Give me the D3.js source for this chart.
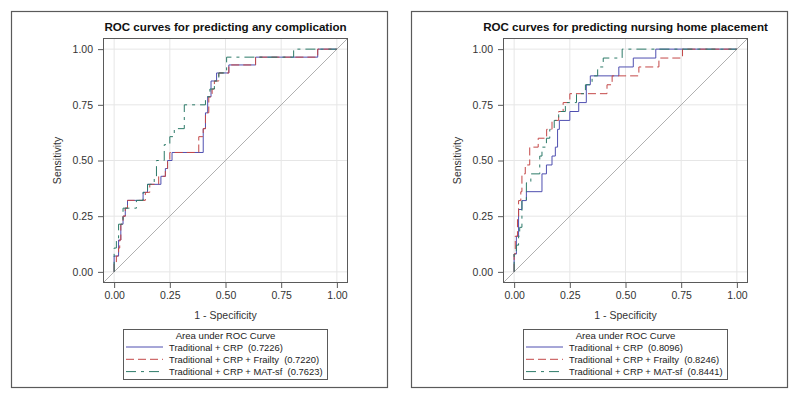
<!DOCTYPE html>
<meta charset="utf-8">
<script src="https://d3js.org/d3.v7.min.js"></script>
<style>
  body { margin: 0; background: #fff; }
  svg { font-family: Arial, "Liberation Sans", sans-serif; }
</style>
<body>
<svg id="chart" width="800" height="400"></svg>
</body>
<script>

// titles / legend text
var titles = ["ROC curves for predicting any complication",
              "ROC curves for predicting nursing home placement"];
var legendTitle = "Area under ROC Curve";
var seriesNames = ["Traditional + CRP", "Traditional + CRP + Frailty", "Traditional + CRP + MAT-sf"];
var aucLeft  = ["0.7226", "0.7220", "0.7623"];
var aucRight = ["0.8096", "0.8246", "0.8441"];
var tickValues = [0, 0.25, 0.5, 0.75, 1];

// ROC vertices [1 - specificity, sensitivity]
var leftCrp = [[0,0],[0,0.071],[0.02,0.143],[0.03,0.214],[0.04,0.25],[0.05,0.286],[0.06,0.321],
  [0.13,0.357],[0.15,0.393],[0.21,0.429],[0.23,0.464],[0.24,0.5],[0.26,0.536],[0.40,0.643],
  [0.41,0.714],[0.42,0.786],[0.435,0.857],[0.46,0.893],[0.515,0.929],[0.635,0.964],[0.914,1],[1,1]];
var leftFrailty = [[0,0],[0,0.036],[0.01,0.071],[0.02,0.107],[0.025,0.143],[0.03,0.214],[0.04,0.25],
  [0.05,0.286],[0.06,0.321],[0.14,0.357],[0.16,0.393],[0.20,0.429],[0.23,0.464],[0.24,0.5],
  [0.25,0.536],[0.38,0.607],[0.40,0.643],[0.41,0.714],[0.425,0.786],[0.44,0.821],[0.45,0.857],
  [0.47,0.893],[0.515,0.929],[0.635,0.964],[0.914,1],[1,1]];
var leftMat = [[0,0],[0,0.107],[0.01,0.143],[0.02,0.214],[0.04,0.286],[0.10,0.321],[0.13,0.357],
  [0.15,0.393],[0.18,0.429],[0.19,0.5],[0.225,0.571],[0.25,0.607],[0.27,0.643],[0.315,0.75],
  [0.41,0.786],[0.43,0.821],[0.45,0.857],[0.47,0.893],[0.505,0.964],[0.806,1],[1,1]];

var rightCrp = [[0,0],[0,0.08],[0.01,0.16],[0.02,0.28],[0.035,0.32],[0.055,0.36],[0.125,0.44],
  [0.145,0.48],[0.17,0.52],[0.185,0.56],[0.195,0.64],[0.203,0.68],[0.25,0.72],[0.29,0.76],
  [0.324,0.84],[0.342,0.88],[0.47,0.92],[0.535,0.96],[0.636,1],[1,1]];
var rightFrailty = [[0,0],[0,0.08],[0.005,0.16],[0.015,0.24],[0.02,0.32],[0.03,0.36],[0.035,0.44],
  [0.05,0.48],[0.07,0.56],[0.108,0.6],[0.146,0.64],[0.17,0.68],[0.2,0.72],[0.22,0.76],[0.25,0.8],
  [0.417,0.84],[0.44,0.88],[0.56,0.92],[0.65,0.96],[0.756,1],[1,1]];
var rightMat = [[0,0],[0,0.08],[0.01,0.12],[0.02,0.16],[0.025,0.2],[0.035,0.32],[0.055,0.4],
  [0.075,0.44],[0.115,0.52],[0.125,0.56],[0.145,0.6],[0.16,0.64],[0.18,0.68],[0.2,0.72],
  [0.23,0.76],[0.28,0.8],[0.32,0.84],[0.35,0.88],[0.375,0.92],[0.40,0.96],[0.485,1],[1,1]];

var colors = ["#4f4fb0", "#c44848", "#2c7a68"];
var dashes = [null, "8,4", "10,5,3,5"];

var svg = d3.select("#chart");

function drawPanel(ox, title, series, aucs) {
  var g = svg.append("g").attr("transform", "translate(" + ox + ",0)");

  g.append("rect")
    .attr("x", 11.5).attr("y", 11.5)
    .attr("width", 376).attr("height", 376)
    .attr("fill", "none").attr("stroke", "#5a5a5a").attr("stroke-width", 1.2);

  var x = d3.scaleLinear().domain([-0.05, 1.05]).range([103, 348]);
  var y = d3.scaleLinear().domain([-0.05, 1.05]).range([283, 38]);

  g.append("text")
    .attr("x", 225.5).attr("y", 30.5)
    .attr("text-anchor", "middle")
    .style("font-size", "11.6px").style("font-weight", "bold").attr("fill", "#111")
    .text(title);

  // grid
  g.selectAll(".gx").data(tickValues).enter().append("line")
    .attr("x1", function(d) { return x(d); }).attr("x2", function(d) { return x(d); })
    .attr("y1", 38).attr("y2", 283)
    .attr("stroke", "#e6e6e6");
  g.selectAll(".gy").data(tickValues).enter().append("line")
    .attr("y1", function(d) { return y(d); }).attr("y2", function(d) { return y(d); })
    .attr("x1", 103).attr("x2", 348)
    .attr("stroke", "#e6e6e6");

  // reference diagonal
  g.append("line")
    .attr("x1", x(-0.05)).attr("y1", y(-0.05))
    .attr("x2", x(1.05)).attr("y2", y(1.05))
    .attr("stroke", "#b0b0b0").attr("stroke-width", 1);

  var line = d3.line()
    .x(function(d) { return x(d[0]); })
    .y(function(d) { return y(d[1]); })
    .curve(d3.curveStepAfter);

  series.forEach(function(s, i) {
    g.append("path")
      .datum(s)
      .attr("d", line)
      .attr("fill", "none")
      .attr("stroke", colors[i])
      .attr("stroke-width", 1)
      .attr("stroke-dasharray", dashes[i]);
  });

  g.append("rect")
    .attr("x", 103.5).attr("y", 38.5)
    .attr("width", 244).attr("height", 244)
    .attr("fill", "none").attr("stroke", "#5a5a5a");

  var xAxis = g.append("g")
    .attr("transform", "translate(0,283)")
    .call(d3.axisBottom(x).tickValues(tickValues).tickSize(5).tickPadding(4).tickFormat(d3.format(".2f")));
  var yAxis = g.append("g")
    .attr("transform", "translate(103,0)")
    .call(d3.axisLeft(y).tickValues(tickValues).tickSize(5).tickPadding(5).tickFormat(d3.format(".2f")));

  [xAxis, yAxis].forEach(function(a) {
    a.select(".domain").remove();
    a.selectAll("line").attr("stroke", "#5a5a5a");
    a.selectAll("text").style("font-size", "10.5px").attr("fill", "#333")
      .style("font-family", "Arial, 'Liberation Sans', sans-serif");
  });

  g.append("text")
    .attr("x", 225.5).attr("y", 319)
    .attr("text-anchor", "middle")
    .style("font-size", "10.5px").attr("fill", "#333")
    .text("1 - Specificity");

  g.append("text")
    .attr("transform", "translate(61,160.5) rotate(-90)")
    .attr("text-anchor", "middle")
    .style("font-size", "10.5px").attr("fill", "#333")
    .text("Sensitivity");

  // legend
  var lg = g.append("g");
  lg.append("rect")
    .attr("x", 123.5).attr("y", 329.5)
    .attr("width", 204).attr("height", 50)
    .attr("fill", "#fff").attr("stroke", "#5a5a5a");
  lg.append("text")
    .attr("x", 225.5).attr("y", 339)
    .attr("text-anchor", "middle")
    .style("font-size", "9.6px").attr("fill", "#222")
    .text(legendTitle);

  seriesNames.forEach(function(name, i) {
    var yy = 347 + i * 12.3;
    lg.append("line")
      .attr("x1", 126).attr("x2", 163)
      .attr("y1", yy).attr("y2", yy)
      .attr("stroke", colors[i]).attr("stroke-width", 1)
      .attr("stroke-dasharray", dashes[i]);
    lg.append("text")
      .attr("x", 169).attr("y", yy + 3.5)
      .style("font-size", "9.4px").attr("fill", "#222")
      .attr("xml:space", "preserve")
      .text(name + "  (" + aucs[i] + ")");
  });
}

drawPanel(0, titles[0], [leftCrp, leftFrailty, leftMat], aucLeft);
drawPanel(400, titles[1], [rightCrp, rightFrailty, rightMat], aucRight);

</script>
